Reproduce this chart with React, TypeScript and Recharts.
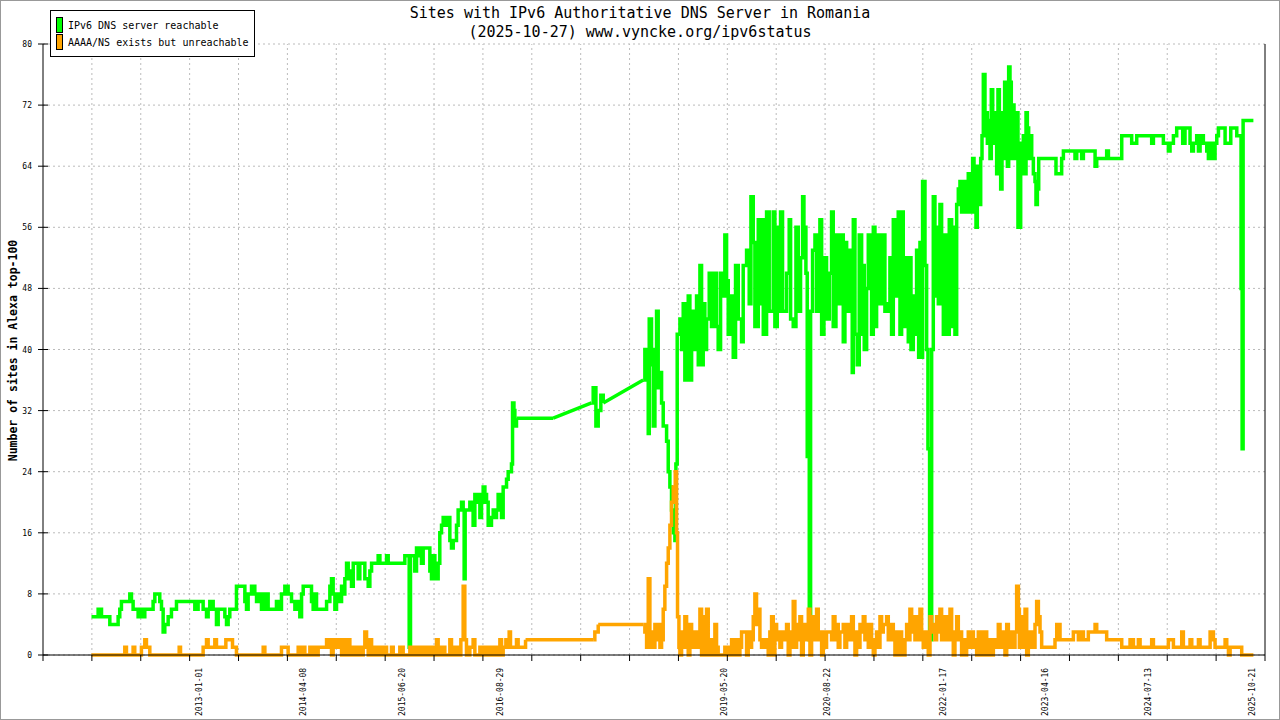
import React from "react";
import { LineChart, Line, XAxis, YAxis, CartesianGrid, ReferenceLine } from "recharts";

const MONO = '"DejaVu Sans Mono", "Liberation Mono", monospace';

const chartTitle = "Sites with IPv6 Authoritative DNS Server in Romania";
const chartSubtitle = "(2025-10-27) www.vyncke.org/ipv6status";
const yAxisTitle = "Number of sites in Alexa top-100";
const seriesNames = ["IPv6 DNS server reachable", "AAAA/NS exists but unreachable"];
const seriesColors = ["#00ff00", "#ffa500"];

// tick labels on the time axis (placed at their own dates)
const dateLabels = [
  "2013-01-01", "2014-04-08", "2015-06-20", "2016-08-29", "2019-05-20",
  "2020-08-22", "2022-01-17", "2023-04-16", "2024-07-13", "2025-10-21",
];
const yTicks = [0, 8, 16, 24, 32, 40, 48, 56, 64, 72, 80];

// time axis range in decimal years, split in 25 equal grid steps
const X_MIN = 2011.107;
const X_MAX = 2025.957;
const GRID_STEPS = 25;
// longer than this (years) between two samples = no data, joined by a straight line
const MAX_GAP = 0.4;

// [decimal year, sites]
const reachable: [number, number][] = [
  [2011.696, 5], [2011.757, 5], [2011.777, 6], [2011.797, 6], [2011.818, 5], [2011.899, 5], [2011.919, 4], [2012.0, 4],
  [2012.02, 5], [2012.04, 6], [2012.06, 7], [2012.142, 7], [2012.162, 8], [2012.182, 7], [2012.202, 6], [2012.263, 5],
  [2012.283, 6], [2012.324, 5], [2012.344, 6], [2012.405, 6], [2012.445, 7], [2012.466, 8], [2012.506, 8], [2012.526, 7],
  [2012.547, 6], [2012.567, 3], [2012.587, 4], [2012.628, 5], [2012.668, 6], [2012.729, 7], [2012.932, 7], [2012.952, 6],
  [2012.972, 6], [2012.992, 7], [2013.033, 7], [2013.053, 6], [2013.094, 5], [2013.114, 6], [2013.134, 7], [2013.155, 7],
  [2013.175, 6], [2013.195, 6], [2013.215, 4], [2013.236, 6], [2013.296, 6], [2013.317, 5], [2013.337, 4], [2013.357, 5],
  [2013.377, 6], [2013.438, 6], [2013.458, 9], [2013.539, 9], [2013.56, 7], [2013.58, 6], [2013.6, 8], [2013.641, 9],
  [2013.661, 9], [2013.681, 8], [2013.702, 7], [2013.742, 8], [2013.762, 6], [2013.783, 8], [2013.803, 6], [2013.823, 8],
  [2013.843, 6], [2013.903, 6], [2013.944, 7], [2013.985, 6], [2014.005, 8], [2014.046, 9], [2014.086, 8], [2014.127, 7],
  [2014.168, 6], [2014.188, 7], [2014.228, 5], [2014.249, 8], [2014.269, 9], [2014.33, 9], [2014.37, 7], [2014.39, 6],
  [2014.41, 8], [2014.431, 6], [2014.532, 6], [2014.553, 7], [2014.573, 7], [2014.593, 9], [2014.613, 10], [2014.633, 8],
  [2014.654, 6], [2014.674, 7], [2014.694, 8], [2014.715, 7], [2014.735, 9], [2014.755, 8], [2014.775, 10], [2014.796, 12],
  [2014.816, 10], [2014.836, 11], [2014.856, 9], [2014.877, 12], [2014.917, 12], [2014.937, 10], [2014.957, 12], [2014.998, 12],
  [2015.018, 10], [2015.059, 9], [2015.079, 11], [2015.1, 12], [2015.16, 12], [2015.18, 13], [2015.201, 12], [2015.262, 12],
  [2015.282, 13], [2015.302, 12], [2015.403, 12], [2015.443, 12], [2015.484, 12], [2015.504, 13], [2015.544, 13], [2015.557, 1],
  [2015.573, 13], [2015.605, 13], [2015.625, 11], [2015.646, 14], [2015.686, 13], [2015.706, 12], [2015.727, 14], [2015.787, 14],
  [2015.808, 11], [2015.828, 10], [2015.848, 13], [2015.869, 12], [2015.889, 10], [2015.909, 12], [2015.929, 16], [2015.95, 17],
  [2015.97, 18], [2016.01, 17], [2016.031, 18], [2016.051, 15], [2016.071, 14], [2016.092, 15], [2016.112, 15], [2016.132, 17],
  [2016.152, 19], [2016.193, 20], [2016.213, 19], [2016.225, 10], [2016.237, 19], [2016.274, 19], [2016.294, 20], [2016.314, 19],
  [2016.334, 17], [2016.355, 21], [2016.375, 20], [2016.395, 21], [2016.416, 18], [2016.436, 20], [2016.456, 22], [2016.477, 21],
  [2016.497, 20], [2016.517, 17], [2016.537, 17], [2016.557, 18], [2016.578, 19], [2016.598, 18], [2016.618, 19], [2016.638, 21],
  [2016.659, 20], [2016.679, 18], [2016.699, 22], [2016.74, 23], [2016.76, 24], [2016.8, 25], [2016.813, 33], [2016.83, 32],
  [2016.841, 30], [2016.861, 31], [2017.307, 31], [2017.773, 33], [2017.793, 35], [2017.826, 30], [2017.854, 32], [2017.886, 34],
  [2017.915, 33], [2018.401, 36], [2018.421, 40], [2018.442, 36], [2018.462, 29], [2018.474, 44], [2018.502, 38], [2018.523, 30],
  [2018.543, 40], [2018.563, 45], [2018.583, 35], [2018.604, 37], [2018.624, 33], [2018.644, 30], [2018.664, 30], [2018.685, 28],
  [2018.705, 24], [2018.725, 22], [2018.745, 19], [2018.766, 16], [2018.786, 15], [2018.798, 25], [2018.814, 42], [2018.847, 44],
  [2018.867, 40], [2018.887, 46], [2018.907, 36], [2018.928, 42], [2018.948, 47], [2018.968, 36], [2018.989, 43], [2019.009, 45],
  [2019.029, 40], [2019.049, 47], [2019.07, 38], [2019.09, 51], [2019.11, 38], [2019.13, 46], [2019.15, 40], [2019.171, 44],
  [2019.203, 50], [2019.231, 43], [2019.26, 50], [2019.292, 43], [2019.312, 40], [2019.341, 50], [2019.373, 47], [2019.393, 55],
  [2019.414, 49], [2019.434, 42], [2019.462, 47], [2019.495, 39], [2019.523, 51], [2019.556, 44], [2019.596, 41], [2019.616, 51],
  [2019.657, 53], [2019.689, 46], [2019.71, 60], [2019.738, 54], [2019.758, 43], [2019.799, 57], [2019.819, 46], [2019.839, 57],
  [2019.86, 42], [2019.9, 58], [2019.932, 45], [2019.981, 58], [2020.001, 43], [2020.03, 56], [2020.042, 45], [2020.07, 58],
  [2020.094, 45], [2020.143, 50], [2020.175, 57], [2020.192, 44], [2020.224, 43], [2020.257, 56], [2020.285, 45], [2020.313, 52],
  [2020.338, 60], [2020.354, 56], [2020.378, 50], [2020.394, 26], [2020.419, 2], [2020.435, 45], [2020.459, 53], [2020.488, 55],
  [2020.508, 45], [2020.548, 57], [2020.569, 42], [2020.597, 52], [2020.629, 44], [2020.662, 50], [2020.69, 58], [2020.71, 43],
  [2020.743, 55], [2020.771, 46], [2020.812, 55], [2020.832, 41], [2020.852, 54], [2020.873, 45], [2020.913, 53], [2020.941, 37],
  [2020.954, 57], [2020.974, 42], [2021.002, 38], [2021.026, 55], [2021.055, 42], [2021.075, 51], [2021.087, 40], [2021.116, 48],
  [2021.136, 55], [2021.176, 42], [2021.197, 56], [2021.217, 43], [2021.237, 55], [2021.278, 46], [2021.31, 55], [2021.338, 45],
  [2021.379, 46], [2021.399, 52], [2021.419, 42], [2021.44, 57], [2021.46, 47], [2021.5, 58], [2021.521, 42], [2021.541, 58],
  [2021.561, 50], [2021.582, 43], [2021.602, 52], [2021.622, 41], [2021.642, 52], [2021.655, 40], [2021.683, 47], [2021.703, 42],
  [2021.723, 53], [2021.748, 39], [2021.764, 54], [2021.784, 39], [2021.796, 62], [2021.825, 51], [2021.845, 40], [2021.861, 27],
  [2021.881, 2], [2021.906, 40], [2021.926, 60], [2021.946, 47], [2021.966, 56], [2021.987, 46], [2022.007, 59], [2022.027, 47],
  [2022.048, 42], [2022.068, 55], [2022.088, 42], [2022.12, 57], [2022.149, 43], [2022.169, 56], [2022.189, 42], [2022.21, 59],
  [2022.23, 61], [2022.25, 62], [2022.27, 58], [2022.291, 62], [2022.331, 58], [2022.351, 63], [2022.372, 63], [2022.392, 58],
  [2022.404, 65], [2022.421, 58], [2022.445, 56], [2022.461, 64], [2022.485, 59], [2022.502, 65], [2022.518, 68], [2022.534, 76],
  [2022.554, 68], [2022.566, 71], [2022.583, 67], [2022.599, 70], [2022.615, 65], [2022.631, 74], [2022.648, 67], [2022.664, 71],
  [2022.68, 69], [2022.696, 63], [2022.712, 74], [2022.729, 66], [2022.745, 61], [2022.761, 71], [2022.777, 65], [2022.793, 75],
  [2022.81, 69], [2022.826, 64], [2022.842, 77], [2022.858, 75], [2022.874, 65], [2022.891, 72], [2022.907, 67], [2022.923, 65],
  [2022.939, 71], [2022.955, 56], [2022.98, 56], [2022.988, 67], [2023.004, 63], [2023.02, 68], [2023.041, 63], [2023.053, 71],
  [2023.069, 69], [2023.085, 65], [2023.101, 68], [2023.122, 65], [2023.142, 63], [2023.162, 62], [2023.174, 59], [2023.191, 61],
  [2023.207, 65], [2023.405, 65], [2023.417, 63], [2023.466, 63], [2023.486, 65], [2023.507, 66], [2023.628, 66], [2023.648, 65],
  [2023.669, 66], [2023.729, 65], [2023.75, 66], [2023.871, 66], [2023.892, 64], [2023.912, 65], [2024.013, 65], [2024.033, 66],
  [2024.054, 65], [2024.175, 65], [2024.216, 68], [2024.317, 68], [2024.337, 67], [2024.378, 67], [2024.398, 68], [2024.56, 68],
  [2024.58, 67], [2024.601, 68], [2024.702, 68], [2024.722, 67], [2024.763, 67], [2024.783, 66], [2024.803, 67], [2024.844, 68],
  [2024.884, 69], [2024.933, 69], [2024.957, 67], [2024.985, 69], [2025.026, 69], [2025.046, 67], [2025.067, 66], [2025.087, 67],
  [2025.127, 68], [2025.148, 66], [2025.168, 68], [2025.208, 67], [2025.249, 66], [2025.269, 65], [2025.29, 67], [2025.33, 65],
  [2025.35, 67], [2025.371, 68], [2025.391, 69], [2025.452, 69], [2025.472, 67], [2025.513, 67], [2025.541, 69], [2025.602, 69],
  [2025.614, 68], [2025.654, 68], [2025.666, 48], [2025.679, 27], [2025.691, 70], [2025.816, 70],
];

const unreachable: [number, number][] = [
  [2011.696, 0], [2012.081, 0], [2012.101, 1], [2012.121, 0], [2012.182, 0], [2012.202, 1], [2012.222, 0], [2012.283, 0],
  [2012.303, 1], [2012.324, 1], [2012.344, 2], [2012.364, 1], [2012.385, 1], [2012.405, 0], [2012.749, 0], [2012.762, 1],
  [2012.778, 0], [2013.033, 0], [2013.053, 1], [2013.086, 1], [2013.094, 2], [2013.114, 1], [2013.187, 1], [2013.195, 2],
  [2013.215, 1], [2013.296, 1], [2013.329, 2], [2013.386, 2], [2013.41, 1], [2013.438, 1], [2013.458, 0], [2013.762, 0],
  [2013.783, 1], [2013.803, 0], [2013.985, 0], [2014.005, 1], [2014.066, 1], [2014.086, 0], [2014.188, 0], [2014.208, 1],
  [2014.228, 0], [2014.269, 1], [2014.289, 0], [2014.35, 1], [2014.37, 0], [2014.39, 1], [2014.431, 0], [2014.451, 1],
  [2014.492, 1], [2014.553, 2], [2014.573, 1], [2014.593, 2], [2014.613, 0], [2014.633, 1], [2014.654, 2], [2014.674, 1],
  [2014.715, 2], [2014.735, 0], [2014.755, 2], [2014.775, 1], [2014.796, 0], [2014.816, 2], [2014.836, 1], [2014.856, 0],
  [2014.877, 1], [2014.917, 0], [2014.937, 1], [2014.978, 0], [2014.998, 1], [2015.018, 3], [2015.039, 1], [2015.059, 0],
  [2015.079, 2], [2015.1, 0], [2015.12, 1], [2015.16, 0], [2015.201, 1], [2015.221, 0], [2015.262, 1], [2015.282, 0],
  [2015.342, 1], [2015.363, 0], [2015.443, 1], [2015.484, 0], [2015.565, 1], [2015.586, 0], [2015.626, 1], [2015.646, 0],
  [2015.667, 1], [2015.686, 0], [2015.727, 1], [2015.767, 0], [2015.808, 1], [2015.848, 0], [2015.889, 2], [2015.909, 0],
  [2015.949, 1], [2015.99, 0], [2016.051, 2], [2016.071, 0], [2016.112, 1], [2016.152, 0], [2016.185, 2], [2016.213, 9],
  [2016.233, 2], [2016.253, 0], [2016.294, 1], [2016.334, 2], [2016.355, 0], [2016.416, 1], [2016.456, 0], [2016.497, 1],
  [2016.537, 0], [2016.578, 1], [2016.618, 0], [2016.659, 2], [2016.679, 0], [2016.699, 1], [2016.732, 2], [2016.748, 1],
  [2016.772, 3], [2016.788, 1], [2016.841, 1], [2016.861, 2], [2016.881, 1], [2016.942, 1], [2016.971, 2], [2017.793, 2],
  [2017.813, 3], [2017.854, 4], [2018.401, 4], [2018.421, 3], [2018.442, 1], [2018.462, 10], [2018.482, 1], [2018.502, 3],
  [2018.523, 1], [2018.543, 4], [2018.563, 2], [2018.583, 4], [2018.604, 1], [2018.624, 2], [2018.644, 6], [2018.664, 9],
  [2018.685, 12], [2018.705, 14], [2018.725, 17], [2018.745, 20], [2018.766, 22], [2018.79, 24], [2018.806, 16], [2018.818, 5],
  [2018.835, 1], [2018.847, 0], [2018.867, 3], [2018.887, 1], [2018.907, 5], [2018.928, 2], [2018.948, 0], [2018.968, 4],
  [2018.989, 1], [2019.009, 3], [2019.029, 2], [2019.049, 1], [2019.07, 3], [2019.09, 6], [2019.11, 0], [2019.13, 5],
  [2019.15, 0], [2019.171, 6], [2019.191, 2], [2019.211, 0], [2019.231, 2], [2019.252, 0], [2019.272, 4], [2019.292, 1],
  [2019.312, 0], [2019.353, 0], [2019.393, 1], [2019.414, 0], [2019.454, 1], [2019.475, 2], [2019.495, 0], [2019.535, 2],
  [2019.556, 0], [2019.576, 1], [2019.596, 3], [2019.637, 3], [2019.657, 0], [2019.677, 3], [2019.697, 1], [2019.718, 2],
  [2019.738, 5], [2019.758, 8], [2019.778, 4], [2019.799, 6], [2019.819, 2], [2019.839, 1], [2019.88, 2], [2019.92, 0],
  [2019.94, 3], [2019.961, 5], [2019.981, 0], [2020.001, 4], [2020.022, 2], [2020.042, 3], [2020.062, 1], [2020.082, 3],
  [2020.103, 2], [2020.143, 4], [2020.163, 0], [2020.184, 3], [2020.204, 1], [2020.224, 7], [2020.244, 1], [2020.265, 4],
  [2020.285, 2], [2020.305, 5], [2020.325, 0], [2020.346, 2], [2020.366, 4], [2020.386, 2], [2020.407, 6], [2020.427, 0],
  [2020.447, 5], [2020.467, 2], [2020.488, 4], [2020.508, 6], [2020.528, 2], [2020.548, 3], [2020.569, 0], [2020.589, 3],
  [2020.609, 1], [2020.629, 3], [2020.67, 3], [2020.69, 2], [2020.71, 5], [2020.731, 2], [2020.751, 4], [2020.771, 1],
  [2020.791, 3], [2020.832, 4], [2020.852, 1], [2020.873, 4], [2020.893, 2], [2020.913, 3], [2020.933, 5], [2020.954, 2],
  [2020.974, 0], [2020.994, 3], [2021.014, 1], [2021.035, 4], [2021.055, 3], [2021.075, 5], [2021.095, 2], [2021.116, 4],
  [2021.136, 1], [2021.156, 4], [2021.176, 2], [2021.197, 0], [2021.217, 2], [2021.237, 3], [2021.257, 1], [2021.278, 5],
  [2021.298, 3], [2021.318, 4], [2021.359, 5], [2021.379, 2], [2021.399, 3], [2021.419, 4], [2021.44, 2], [2021.46, 0],
  [2021.48, 3], [2021.5, 0], [2021.521, 3], [2021.541, 2], [2021.561, 0], [2021.582, 2], [2021.602, 4], [2021.622, 2],
  [2021.642, 6], [2021.663, 3], [2021.683, 5], [2021.703, 2], [2021.723, 5], [2021.744, 2], [2021.764, 6], [2021.784, 3],
  [2021.804, 1], [2021.825, 3], [2021.845, 2], [2021.865, 0], [2021.886, 5], [2021.906, 3], [2021.926, 4], [2021.946, 2],
  [2021.966, 5], [2021.987, 3], [2022.007, 6], [2022.027, 2], [2022.048, 3], [2022.068, 5], [2022.088, 2], [2022.108, 4],
  [2022.129, 6], [2022.149, 2], [2022.169, 0], [2022.189, 3], [2022.21, 5], [2022.23, 2], [2022.25, 3], [2022.27, 0],
  [2022.291, 2], [2022.311, 0], [2022.331, 2], [2022.351, 3], [2022.372, 1], [2022.392, 3], [2022.413, 1], [2022.433, 2],
  [2022.453, 0], [2022.473, 3], [2022.494, 0], [2022.514, 3], [2022.534, 0], [2022.554, 3], [2022.575, 2], [2022.595, 0],
  [2022.615, 2], [2022.635, 0], [2022.656, 2], [2022.676, 1], [2022.696, 2], [2022.716, 4], [2022.737, 1], [2022.757, 3],
  [2022.777, 2], [2022.797, 0], [2022.818, 4], [2022.838, 1], [2022.858, 2], [2022.878, 3], [2022.899, 1], [2022.919, 3],
  [2022.939, 9], [2022.96, 6], [2022.972, 1], [2022.988, 5], [2023.004, 2], [2023.02, 1], [2023.041, 6], [2023.061, 0],
  [2023.081, 3], [2023.101, 1], [2023.122, 3], [2023.142, 1], [2023.162, 4], [2023.182, 7], [2023.203, 5], [2023.223, 3],
  [2023.243, 1], [2023.385, 1], [2023.405, 2], [2023.426, 4], [2023.446, 4], [2023.466, 2], [2023.608, 2], [2023.628, 3],
  [2023.669, 3], [2023.689, 2], [2023.729, 3], [2023.75, 2], [2023.81, 3], [2023.851, 3], [2023.892, 4], [2023.912, 3],
  [2024.013, 3], [2024.033, 2], [2024.175, 2], [2024.216, 1], [2024.297, 1], [2024.317, 2], [2024.358, 1], [2024.418, 2],
  [2024.439, 1], [2024.56, 1], [2024.58, 2], [2024.601, 1], [2024.763, 1], [2024.783, 2], [2024.823, 2], [2024.844, 1],
  [2024.925, 1], [2024.945, 3], [2024.965, 1], [2025.046, 2], [2025.067, 1], [2025.148, 2], [2025.168, 1], [2025.269, 1],
  [2025.29, 3], [2025.33, 2], [2025.35, 1], [2025.472, 2], [2025.492, 1], [2025.513, 0], [2025.533, 1], [2025.654, 1],
  [2025.674, 0], [2025.816, 0],
];

type Row = { t: number; v: number | null };

// daily samples are drawn as steps; periods without samples are bridged by a straight segment
function splitAtGaps(pts: [number, number][]) {
  const steps: Row[] = [];
  const bridges: Row[] = [];
  pts.forEach(([t, v], i) => {
    if (i > 0 && t - pts[i - 1][0] > MAX_GAP) {
      const [pt, pv] = pts[i - 1];
      steps.push({ t: (t + pt) / 2, v: null });
      if (bridges.length) bridges.push({ t: pt, v: null });
      bridges.push({ t: pt, v: pv }, { t, v });
    }
    steps.push({ t, v });
  });
  return { steps, bridges };
}

const reachableParts = splitAtGaps(reachable);
const unreachableParts = splitAtGaps(unreachable);

function decimalYear(iso: string) {
  const d = new Date(iso + "T00:00:00Z");
  const y = d.getUTCFullYear();
  const start = Date.UTC(y, 0, 1);
  const end = Date.UTC(y + 1, 0, 1);
  return y + (d.getTime() - start) / (end - start);
}

const labelTicks = dateLabels.map((s) => ({ t: decimalYear(s), label: s }));
const gridTicks = Array.from({ length: GRID_STEPS + 1 }, (_, i) => X_MIN + (i * (X_MAX - X_MIN)) / GRID_STEPS);
const xTicks = [...gridTicks, ...labelTicks.map((l) => l.t)];

function labelFor(value: number) {
  const hit = labelTicks.find((l) => Math.abs(l.t - value) < 1e-9);
  return hit ? hit.label : null;
}

function DateTick({ x, y, payload }: any) {
  const label = labelFor(payload.value);
  if (label) {
    return (
      <text transform={`translate(${x + 3},${y + 61}) rotate(-90)`} fontSize={8} fontFamily={MONO} fill="#000">
        {label}
      </text>
    );
  }
  return <line x1={x} x2={x} y1={y} y2={y + 6} stroke="#000" />;
}

function CountTick({ x, y, payload }: any) {
  return (
    <g>
      <line x1={x - 5} x2={x + 5} y1={y} y2={y} stroke="#000" />
      <text x={x - 11} y={y} dy={3} textAnchor="end" fontSize={8} fontFamily={MONO} fill="#000">
        {payload.value}
      </text>
    </g>
  );
}

function YTitle({ viewBox }: any) {
  const { x, y, height } = viewBox;
  return (
    <text
      transform={`translate(${x + 17},${y + height / 2 + 1}) rotate(-90)`}
      textAnchor="middle"
      fontSize={11.5}
      fontWeight="bold"
      fontFamily={MONO}
      fill="#000"
    >
      {yAxisTitle}
    </text>
  );
}

export default function App() {
  const gridStroke = "#bbbbbb";
  const lineWidth = 3.5;
  return (
    <div style={{ position: "absolute", left: 0, top: 0, width: 1280, height: 720, background: "#fff", fontFamily: MONO }}>
      <LineChart width={1280} height={720} margin={{ top: 44, right: 0, bottom: 0, left: 0 }}>
        <CartesianGrid vertical={false} stroke={gridStroke} strokeDasharray="2 3" />
        {gridTicks.slice(1, -1).map((t) => (
          <ReferenceLine key={t} x={t} stroke={gridStroke} strokeDasharray="2 3" />
        ))}
        <XAxis
          dataKey="t"
          type="number"
          domain={[X_MIN, X_MAX]}
          ticks={xTicks}
          interval={0}
          height={65}
          tickSize={0}
          tickMargin={0}
          tickLine={false}
          axisLine={{ stroke: "#000" }}
          tick={<DateTick />}
          allowDataOverflow
        />
        <YAxis
          type="number"
          domain={[0, 80]}
          ticks={yTicks}
          width={43}
          tickSize={0}
          tickMargin={0}
          tickLine={false}
          axisLine={{ stroke: "#000" }}
          tick={<CountTick />}
          label={{ content: (props: any) => <YTitle {...props} /> }}
        />
        <YAxis
          yAxisId="right"
          orientation="right"
          type="number"
          domain={[0, 80]}
          width={15}
          tick={false}
          tickLine={false}
          axisLine={{ stroke: "#000" }}
        />
        <Line
          data={reachableParts.steps}
          dataKey="v"
          type="stepAfter"
          name={seriesNames[0]}
          stroke={seriesColors[0]}
          strokeWidth={lineWidth}
          dot={false}
          isAnimationActive={false}
        />
        <Line
          data={reachableParts.bridges}
          dataKey="v"
          type="linear"
          stroke={seriesColors[0]}
          strokeWidth={lineWidth}
          dot={false}
          legendType="none"
          isAnimationActive={false}
        />
        <Line
          data={unreachableParts.steps}
          dataKey="v"
          type="stepAfter"
          name={seriesNames[1]}
          stroke={seriesColors[1]}
          strokeWidth={lineWidth}
          dot={false}
          isAnimationActive={false}
        />
        <Line
          data={unreachableParts.bridges}
          dataKey="v"
          type="linear"
          stroke={seriesColors[1]}
          strokeWidth={lineWidth}
          dot={false}
          legendType="none"
          isAnimationActive={false}
        />
      </LineChart>

      <div
        style={{
          position: "absolute",
          left: 0,
          top: 4,
          width: 1280,
          textAlign: "center",
          fontSize: 15,
          lineHeight: "19px",
          color: "#000",
        }}
      >
        <div>{chartTitle}</div>
        <div>{chartSubtitle}</div>
      </div>

      <div
        style={{
          position: "absolute",
          left: 50,
          top: 10,
          width: 203,
          height: 45,
          border: "1px solid #000",
          background: "#fff",
          fontSize: 10,
          lineHeight: "12px",
        }}
      >
        {seriesNames.map((name, i) => (
          <React.Fragment key={name}>
            <div
              style={{
                position: "absolute",
                left: 5,
                top: 6 + i * 17,
                width: 5,
                height: 14,
                border: "1px solid #000",
                background: seriesColors[i],
              }}
            />
            <div style={{ position: "absolute", left: 17, top: 9 + i * 17, whiteSpace: "nowrap" }}>{name}</div>
          </React.Fragment>
        ))}
      </div>

      <div
        style={{
          position: "absolute",
          left: 0,
          top: 0,
          width: 1280,
          height: 720,
          boxSizing: "border-box",
          border: "1px solid #999",
          pointerEvents: "none",
        }}
      />
    </div>
  );
}
